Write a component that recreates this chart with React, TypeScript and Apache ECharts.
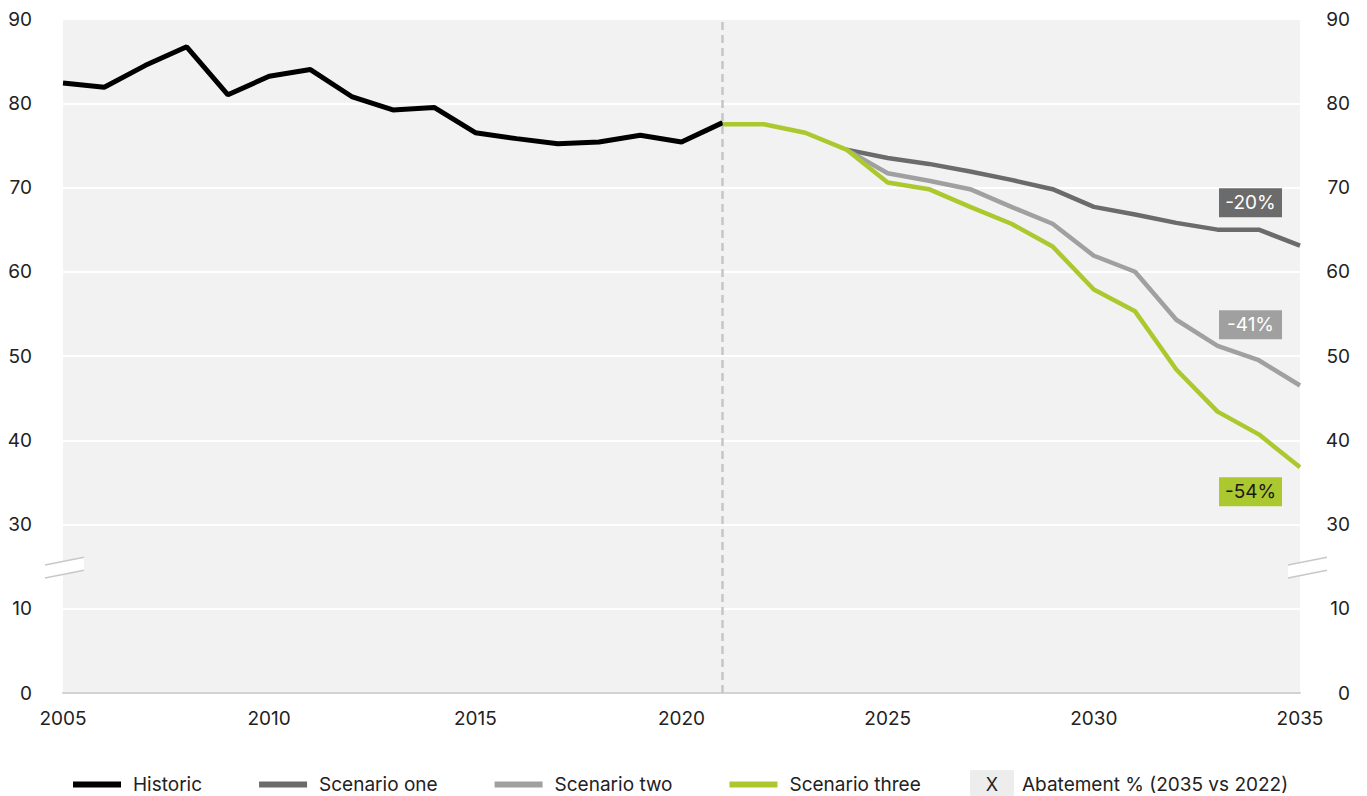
import React, { useEffect, useRef } from "react";
import * as echarts from "echarts";

const historicYears = [2005, 2006, 2007, 2008, 2009, 2010, 2011, 2012, 2013, 2014, 2015, 2016, 2017, 2018, 2019, 2020, 2021];
const historicValues = [82.4, 81.9, 84.5, 86.7, 81.0, 83.2, 84.0, 80.8, 79.2, 79.5, 76.5, 75.8, 75.2, 75.4, 76.2, 75.4, 77.7];

const scenarioThreeYears = [2021, 2022, 2023, 2024, 2025, 2026, 2027, 2028, 2029, 2030, 2031, 2032, 2033, 2034, 2035];
const scenarioThreeValues = [77.5, 77.5, 76.5, 74.5, 70.6, 69.8, 67.7, 65.7, 63.0, 57.9, 55.3, 48.4, 43.4, 40.7, 36.8];

const scenarioYears = [2024, 2025, 2026, 2027, 2028, 2029, 2030, 2031, 2032, 2033, 2034, 2035];
const scenarioOneValues = [74.5, 73.5, 72.8, 71.9, 70.9, 69.8, 67.7, 66.8, 65.8, 65.0, 65.0, 63.1];
const scenarioTwoValues = [74.5, 71.7, 70.8, 69.8, 67.7, 65.7, 61.9, 60.0, 54.3, 51.2, 49.5, 46.5];

const seriesNames = ["Historic", "Scenario one", "Scenario two", "Scenario three"];
const abatementLabels = ["-20%", "-41%", "-54%"];
const abatementLabelYear = 2033.8;
const abatementLabelValues = [68.2, 53.7, 33.9];
const abatementKeyText = "Abatement % (2035 vs 2022)";

const xTicks = { min: 2005, max: 2035, step: 5 };
const forecastStartYear = 2021;

// y axis break: the range 10..30 is drawn as one interval (20 is skipped)
const BREAK_FROM = 20;
const BREAK_SHIFT = 10;
const toAxis = (v: number) => (v >= BREAK_FROM + BREAK_SHIFT ? v - BREAK_SHIFT : v);
const fromAxis = (v: number) => (v >= BREAK_FROM ? v + BREAK_SHIFT : v);

const FONT = "Inter";
const TEXT = "#222222";
const C_BLACK = "#000000";
const C_ONE = "#6b6b6b";
const C_TWO = "#a0a0a0";
const C_THREE = "#abc92f";

const pairs = (xs: number[], ys: number[]) => xs.map((x, i) => [x, toAxis(ys[i])]);

export default function App() {
  const ref = useRef<HTMLDivElement>(null);
  useEffect(() => {
    if (!ref.current) return;
    const chart = echarts.init(ref.current, null, { renderer: "svg" });
    const labelMark = (i: number, color: string, textColor: string) => ({
      symbol: "rect",
      symbolSize: [63, 29],
      silent: true,
      itemStyle: { color },
      label: {
        show: true,
        position: "inside",
        color: textColor,
        fontSize: 19,
        fontFamily: FONT,
        formatter: abatementLabels[i],
      },
      data: [{ coord: [abatementLabelYear, toAxis(abatementLabelValues[i])] }],
    });
    const yAxisBase = {
      type: "value",
      min: 0,
      max: 80,
      interval: 10,
      axisLine: { show: false },
      axisTick: { show: false },
    };
    chart.setOption({
      animation: false,
      backgroundColor: "#ffffff",
      textStyle: { fontFamily: FONT },
      grid: {
        left: 63,
        right: 67,
        top: 19,
        bottom: 103,
        show: true,
        backgroundColor: "#f2f2f2",
        borderWidth: 0,
      },
      xAxis: {
        type: "value",
        min: xTicks.min,
        max: xTicks.max,
        interval: xTicks.step,
        axisLine: { show: true, lineStyle: { color: "#d3d3d3", width: 2 } },
        axisTick: { show: false },
        splitLine: { show: false },
        axisLabel: {
          fontSize: 19,
          color: TEXT,
          fontFamily: FONT,
          margin: 16,
          formatter: (v: number) => String(v),
        },
      },
      yAxis: [
        {
          ...yAxisBase,
          position: "left",
          splitLine: { show: true, lineStyle: { color: "#ffffff", width: 2 } },
          axisLabel: { fontSize: 19, color: TEXT, fontFamily: FONT, margin: 31, formatter: (v: number) => String(fromAxis(v)) },
        },
        {
          ...yAxisBase,
          position: "right",
          splitLine: { show: false },
          axisLabel: {
            fontSize: 19,
            color: TEXT,
            fontFamily: FONT,
            margin: 50,
            align: "right",
            formatter: (v: number) => String(fromAxis(v)),
          },
        },
      ],
      legend: {
        data: seriesNames,
        left: 73,
        top: 775,
        icon: "rect",
        itemWidth: 48,
        itemHeight: 6,
        itemGap: 57,
        padding: 0,
        selectedMode: false,
        textStyle: { fontSize: 19, color: TEXT, fontFamily: FONT, padding: [0, 0, 0, 7] },
      },
      series: [
        {
          name: seriesNames[0],
          type: "line",
          data: pairs(historicYears, historicValues),
          showSymbol: false,
          lineStyle: { color: C_BLACK, width: 5 },
          itemStyle: { color: C_BLACK },
          z: 3,
          markLine: {
            silent: true,
            symbol: "none",
            label: { show: false },
            lineStyle: { color: "#c6c6c6", width: 2.5, type: [8, 5] },
            data: [{ xAxis: forecastStartYear }],
          },
        },
        {
          name: seriesNames[1],
          type: "line",
          data: pairs(scenarioYears, scenarioOneValues),
          showSymbol: false,
          lineStyle: { color: C_ONE, width: 4.5 },
          itemStyle: { color: C_ONE },
          z: 2,
          markPoint: labelMark(0, C_ONE, "#ffffff"),
        },
        {
          name: seriesNames[2],
          type: "line",
          data: pairs(scenarioYears, scenarioTwoValues),
          showSymbol: false,
          lineStyle: { color: C_TWO, width: 4.5 },
          itemStyle: { color: C_TWO },
          z: 2,
          markPoint: labelMark(1, C_TWO, "#ffffff"),
        },
        {
          name: seriesNames[3],
          type: "line",
          data: pairs(scenarioThreeYears, scenarioThreeValues),
          showSymbol: false,
          lineStyle: { color: C_THREE, width: 4.5 },
          itemStyle: { color: C_THREE },
          z: 4,
          markPoint: labelMark(2, C_THREE, "#1a1a1a"),
        },
      ],
    });

    // axis-break marks and the abatement key, positioned from the axes
    const breakY = chart.convertToPixel({ yAxisIndex: 0 }, 15) as number;
    const leftX = chart.convertToPixel({ xAxisIndex: 0 }, xTicks.min) as number;
    const rightX = chart.convertToPixel({ xAxisIndex: 0 }, xTicks.max) as number;
    const breakMark = (x0: number, x1: number) => {
      const cy = breakY + 1;
      const h = 6.5;
      const d = 3.8;
      return {
        type: "group",
        children: [
          {
            type: "polygon",
            shape: { points: [[x0, cy - h + d], [x1, cy - h - d], [x1, cy + h - d], [x0, cy + h + d]] },
            style: { fill: "#ffffff" },
          },
          { type: "line", shape: { x1: x0, y1: cy - h + d, x2: x1, y2: cy - h - d }, style: { stroke: "#c8c8c8", lineWidth: 1.5 } },
          { type: "line", shape: { x1: x0, y1: cy + h + d, x2: x1, y2: cy + h - d }, style: { stroke: "#c8c8c8", lineWidth: 1.5 } },
        ],
      };
    };
    chart.setOption({
      graphic: [
        breakMark(leftX - 18, leftX + 21),
        breakMark(rightX - 12, rightX + 27),
        {
          type: "group",
          left: 970,
          top: 770,
          children: [
            { type: "rect", shape: { x: 0, y: 0, width: 44, height: 28 }, style: { fill: "#ededed" } },
            {
              type: "text",
              x: 22,
              y: 14,
              style: { text: "X", fontSize: 18, fontFamily: FONT, fill: TEXT, align: "center", verticalAlign: "middle" },
            },
            {
              type: "text",
              x: 52,
              y: 14,
              style: { text: abatementKeyText, fontSize: 19, fontFamily: FONT, fill: TEXT, align: "left", verticalAlign: "middle" },
            },
          ],
        },
      ],
    });
    return () => chart.dispose();
  }, []);
  return <div ref={ref} style={{ position: "absolute", left: 0, top: 0, width: 1367, height: 796 }} />;
}
